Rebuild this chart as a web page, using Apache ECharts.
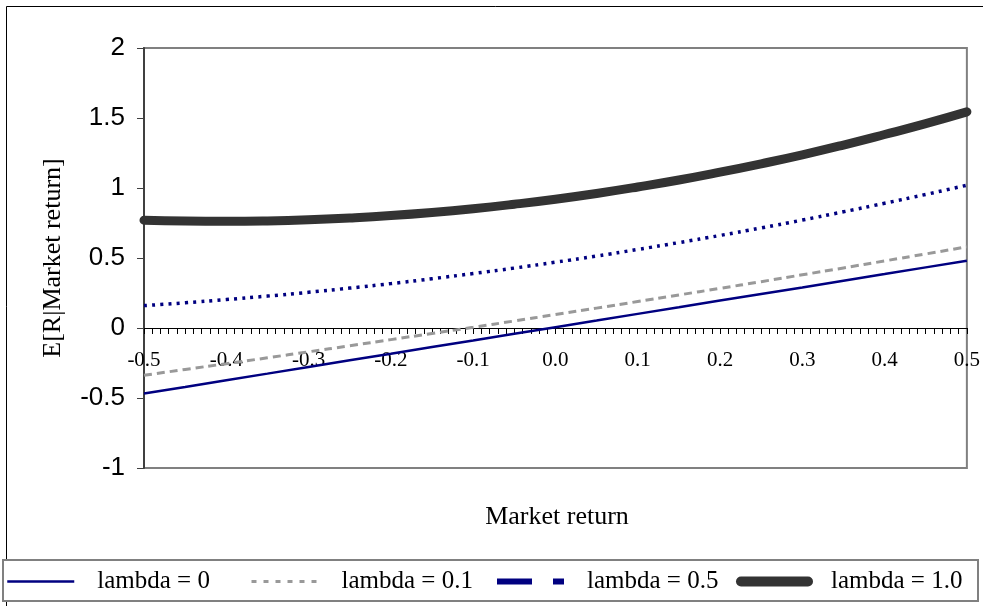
<!DOCTYPE html>
<html>
<head>
<meta charset="utf-8">
<script src="https://cdn.jsdelivr.net/npm/echarts@6/dist/echarts.min.js"></script>
<style>
html,body{margin:0;padding:0;background:#fff;}
#chart{width:983px;height:606px;}
</style>
</head>
<body>
<div id="chart"></div>
<script>
// Market return values (x)
const marketReturn = [-0.5,-0.45,-0.4,-0.35,-0.3,-0.25,-0.2,-0.15,-0.1,-0.05,0,0.05,0.1,0.15,0.2,0.25,0.3,0.35,0.4,0.45,0.5];
// Series names
const seriesNames = ['lambda = 0','lambda = 0.1','lambda = 0.5','lambda = 1.0'];
// E[R|Market return] for each lambda
const lambda0  = [-0.468,-0.421,-0.373,-0.326,-0.278,-0.231,-0.184,-0.136,-0.089,-0.041,0.006,0.053,0.101,0.148,0.196,0.243,0.290,0.338,0.385,0.433,0.480];
const lambda01 = [-0.338,-0.296,-0.255,-0.213,-0.170,-0.127,-0.083,-0.039,0.005,0.050,0.096,0.142,0.189,0.236,0.283,0.331,0.380,0.429,0.479,0.529,0.580];
const lambda05 = [0.160,0.180,0.203,0.228,0.255,0.285,0.317,0.352,0.389,0.428,0.470,0.514,0.561,0.610,0.661,0.715,0.771,0.830,0.891,0.954,1.020];
const lambda10 = [0.770,0.764,0.762,0.765,0.773,0.786,0.803,0.825,0.852,0.884,0.920,0.961,1.007,1.057,1.113,1.173,1.237,1.307,1.382,1.460,1.544];

const pair = arr => marketReturn.map((x, i) => [x, arr[i]]);
const SERIF = '"Liberation Serif","Times New Roman",serif';
const SANS = '"Liberation Sans",Arial,sans-serif';

const legendLines = [
  {color: '#000080', width: 2.5, type: 'solid'},
  {color: '#999999', width: 3, type: [5, 7]},
  {color: '#000080', width: 6, type: [35, 21]},
  {color: '#333333', width: 10, type: 'solid', cap: 'round'}
];
const legendLefts = [6, 250, 494, 736];

const legends = seriesNames.map((n, i) => ({
  data: [{name: n, lineStyle: legendLines[i]}],
  left: legendLefts[i], top: 569, padding: 0, z: 5,
  itemWidth: 67, itemHeight: 26,
  itemStyle: {opacity: 0},
  textStyle: {fontFamily: SERIF, fontSize: 25, color: '#000', padding: [0, 0, 0, 18]}
}));

const chart = echarts.init(document.getElementById('chart'), null, {renderer: 'canvas'});
chart.setOption({
  animation: false,
  backgroundColor: '#fff',
  grid: {left: 144, top: 48, right: 13, bottom: 138, show: true, borderColor: '#808080', borderWidth: 2, backgroundColor: 'transparent'},
  graphic: [
    {type: 'rect', shape: {x: 6.5, y: 6.5, width: 1000, height: 700}, style: {fill: 'none', stroke: '#000', lineWidth: 1}, silent: true, z: -1},
    {type: 'rect', shape: {x: 3, y: 560, width: 975, height: 41}, style: {fill: '#fff', stroke: '#808080', lineWidth: 2}, silent: true, z: 0},
    {type: 'text', x: 557, y: 517, style: {text: 'Market return', font: '26px ' + SERIF, fill: '#000', textAlign: 'center', textVerticalAlign: 'middle'}, silent: true}
  ],
  legend: legends,
  xAxis: {
    type: 'value', min: -0.5, max: 0.5, interval: 0.1,
    offset: -140,
    axisLine: {onZero: false, lineStyle: {color: '#000', width: 1}},
    axisTick: {show: true, length: 6, lineStyle: {color: '#000'}},
    minorTick: {show: true, splitNumber: 10, length: 6, lineStyle: {color: '#000'}},
    splitLine: {show: false},
    axisLabel: {fontFamily: SERIF, fontSize: 21, color: '#000', margin: 22, formatter: v => v.toFixed(1), showMinLabel: true, showMaxLabel: true}
  },
  yAxis: {
    type: 'value', min: -1, max: 2, interval: 0.5,
    name: 'E[R|Market return]', nameLocation: 'middle', nameGap: 78,
    nameTextStyle: {fontFamily: SERIF, fontSize: 26, color: '#000'},
    axisLine: {show: true, onZero: false, lineStyle: {color: '#404040', width: 2}},
    axisTick: {show: true, length: 7, lineStyle: {color: '#404040'}},
    splitLine: {show: false},
    axisLabel: {fontFamily: SANS, fontSize: 26, color: '#000', margin: 19}
  },
  series: [
    {name: seriesNames[0], type: 'line', data: pair(lambda0), symbol: 'none', smooth: false, lineStyle: {color: '#000080', width: 2.5}, itemStyle: {color: '#000080'}, z: 3},
    {name: seriesNames[1], type: 'line', data: pair(lambda01), symbol: 'none', smooth: true, lineStyle: {color: '#999999', width: 3, type: [8, 5]}, itemStyle: {color: '#999999'}, z: 3},
    {name: seriesNames[2], type: 'line', data: pair(lambda05), symbol: 'none', smooth: true, lineStyle: {color: '#000080', width: 3.5, type: [3, 5.2]}, itemStyle: {color: '#000080'}, z: 3},
    {name: seriesNames[3], type: 'line', data: pair(lambda10), symbol: 'none', smooth: true, lineStyle: {color: '#333333', width: 9, cap: 'round'}, itemStyle: {color: '#333333'}, z: 3}
  ]
});
</script>
</body>
</html>
